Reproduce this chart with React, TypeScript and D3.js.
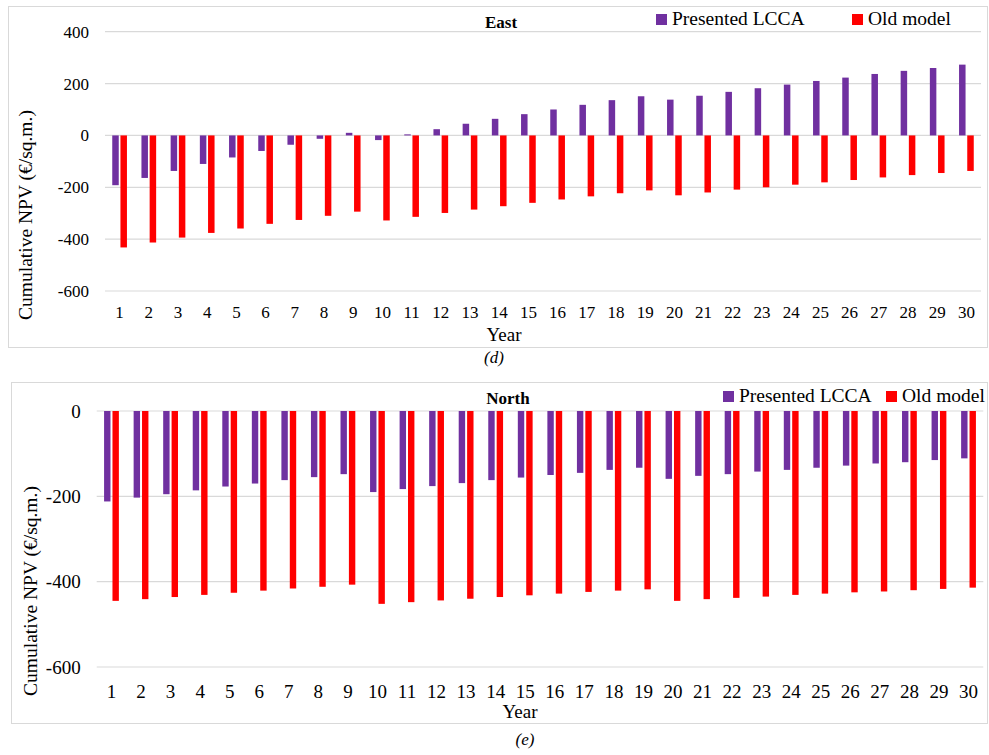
import React from "react";
import * as d3 from "d3";

const years = Array.from({ length: 30 }, (_, i) => String(i + 1));
const seriesNames = ["Presented LCCA", "Old model"];
const seriesColors = ["#7030A0", "#FF0000"];

const eastLCCA = [-192, -164, -137, -110, -85, -60, -36, -13, 10, -18, 4, 24, 45, 64, 82, 100, 118, 136, 151, 138, 153, 168, 182, 196, 210, 223, 237, 249, 260, 273];
const eastOld = [-432, -413, -394, -376, -359, -341, -326, -310, -294, -328, -314, -299, -286, -273, -260, -247, -235, -223, -212, -231, -220, -209, -200, -190, -181, -172, -162, -153, -145, -137];

const northLCCA = [-212, -203, -195, -186, -177, -170, -162, -155, -148, -190, -183, -176, -169, -162, -156, -150, -145, -138, -133, -159, -152, -148, -142, -138, -133, -128, -123, -120, -115, -111];
const northOld = [-445, -441, -436, -431, -426, -421, -416, -412, -407, -452, -448, -444, -440, -436, -432, -428, -424, -421, -418, -445, -441, -438, -435, -431, -428, -425, -423, -420, -417, -414];

const eastTicks = [400, 200, 0, -200, -400, -600];
const northTicks = [0, -200, -400, -600];

const FONT = "'Liberation Serif', 'Times New Roman', serif";

type PanelProps = {
  frame: { x: number; y: number; w: number; h: number };
  plot: { x0: number; x1: number; y0: number; y1: number };
  domain: [number, number];
  ticks: number[];
  values: number[][];
  title: string;
  titleX: number;
  titleY: number;
  legend: { x: number[]; y: number };
  tickFont: number;
  xLabelY: number;
  yearX: number;
  yearY: number;
  yLabelX: number;
  yLabelCenterY: number;
  caption: string;
  captionX: number;
  captionY: number;
  barW: number;
  gap: number;
};

function Panel(p: PanelProps) {
  const x = d3.scaleBand<string>().domain(years).range([p.plot.x0, p.plot.x1]).padding(0);
  const y = d3.scaleLinear().domain(p.domain).range([p.plot.y1, p.plot.y0]);
  const inner = d3
    .scaleBand<number>()
    .domain([0, 1])
    .range([0, 2 * p.barW + p.gap])
    .paddingInner(p.gap / (p.barW + p.gap))
    .paddingOuter(0);
  const groupOffset = (x.bandwidth() - (2 * p.barW + p.gap)) / 2;
  return (
    <g>
      <rect x={p.frame.x} y={p.frame.y} width={p.frame.w} height={p.frame.h} fill="#fff" stroke="#d9d9d9" strokeWidth={1} />
      {p.ticks.map((t) => (
        <g key={t}>
          <line x1={p.plot.x0} x2={p.plot.x1} y1={y(t)} y2={y(t)} stroke="#d9d9d9" strokeWidth={1.2} />
          <text x={p.plot.x0 - 16} y={y(t)} dy="0.35em" textAnchor="end" fontSize={p.tickFont} fontFamily={FONT} fill="#000">
            {t}
          </text>
        </g>
      ))}
      {p.values.map((vals, si) =>
        vals.map((v, i) => {
          const bx = (x(years[i]) as number) + groupOffset + (inner(si) as number);
          const y0 = y(0);
          const yv = y(v);
          return (
            <rect
              key={`${si}-${i}`}
              x={bx}
              y={Math.min(y0, yv)}
              width={inner.bandwidth()}
              height={Math.abs(yv - y0)}
              fill={seriesColors[si]}
            />
          );
        })
      )}
      {years.map((yr) => (
        <text
          key={yr}
          x={(x(yr) as number) + x.bandwidth() / 2}
          y={p.xLabelY}
          textAnchor="middle"
          fontSize={p.tickFont}
          fontFamily={FONT}
          fill="#000"
        >
          {yr}
        </text>
      ))}
      <text x={p.yearX} y={p.yearY} textAnchor="middle" fontSize={19} fontFamily={FONT} fill="#000">
        Year
      </text>
      <text
        transform={`translate(${p.yLabelX},${p.yLabelCenterY}) rotate(-90)`}
        textAnchor="middle"
        fontSize={19.5}
        fontFamily={FONT}
        fill="#000"
      >
        Cumulative NPV (€/sq.m.)
      </text>
      <text x={p.titleX} y={p.titleY} textAnchor="middle" fontSize={17} fontWeight="bold" fontFamily={FONT} fill="#000">
        {p.title}
      </text>
      {seriesNames.map((n, i) => (
        <g key={n}>
          <rect x={p.legend.x[i]} y={p.legend.y - 11} width={11} height={11} fill={seriesColors[i]} />
          <text x={p.legend.x[i] + 16} y={p.legend.y} fontSize={19.5} fontFamily={FONT} fill="#000">
            {n}
          </text>
        </g>
      ))}
      <text x={p.captionX} y={p.captionY} textAnchor="middle" fontSize={17} fontStyle="italic" fontFamily={FONT} fill="#000">
        {p.caption}
      </text>
    </g>
  );
}

export default function App() {
  return (
    <svg width={989} height={755} style={{ position: "absolute", left: 0, top: 0 }}>
      <rect x={0} y={0} width={989} height={755} fill="#fff" />
      <Panel
        frame={{ x: 8.5, y: 6.5, w: 979, h: 341 }}
        plot={{ x0: 105, x1: 981, y0: 31.7, y1: 291 }}
        domain={[-600, 400]}
        ticks={eastTicks}
        values={[eastLCCA, eastOld]}
        title="East"
        titleX={501}
        titleY={28}
        legend={{ x: [656, 852], y: 25 }}
        tickFont={17}
        xLabelY={318}
        yearX={504}
        yearY={341}
        yLabelX={32}
        yLabelCenterY={215}
        caption="(d)"
        captionX={494}
        captionY={363}
        barW={6.5}
        gap={1.7}
      />
      <Panel
        frame={{ x: 11.5, y: 382.5, w: 976, h: 341 }}
        plot={{ x0: 96.7, x1: 983.3, y0: 411, y1: 667 }}
        domain={[-600, 0]}
        ticks={northTicks}
        values={[northLCCA, northOld]}
        title="North"
        titleX={508}
        titleY={404}
        legend={{ x: [723, 886], y: 402 }}
        tickFont={19}
        xLabelY={698}
        yearX={520}
        yearY={718}
        yLabelX={37}
        yLabelCenterY={591}
        caption="(e)"
        captionX={525}
        captionY={745}
        barW={6.4}
        gap={2}
      />
    </svg>
  );
}
